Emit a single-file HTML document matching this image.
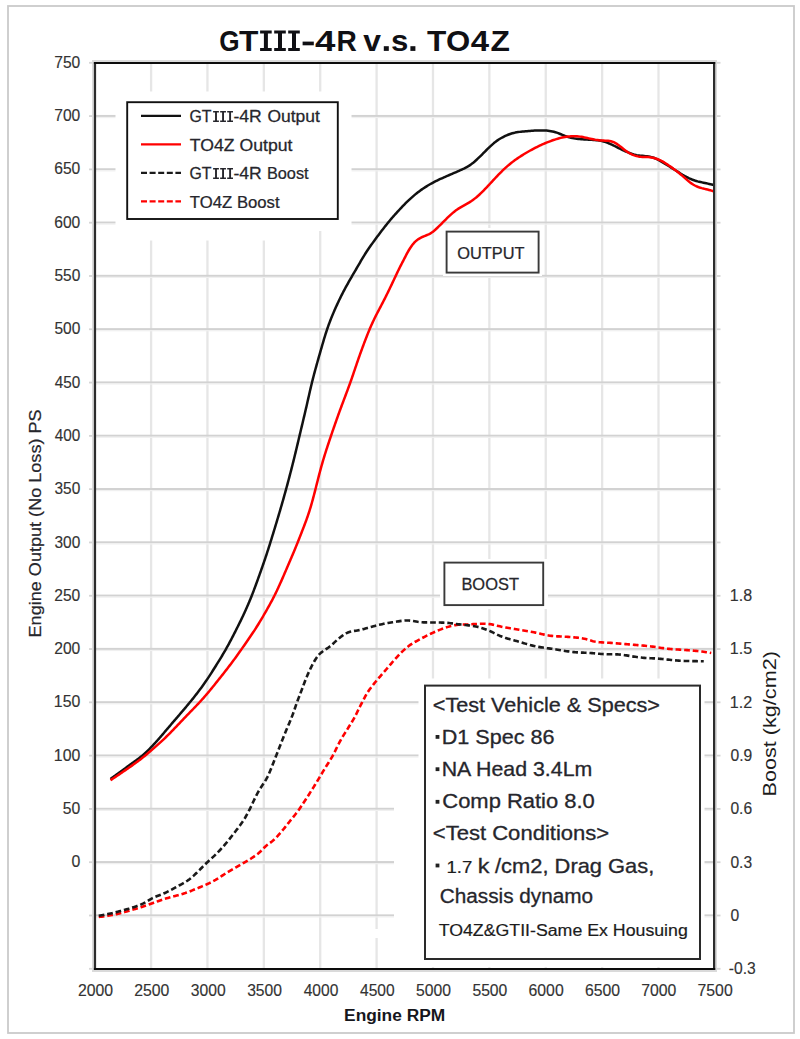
<!DOCTYPE html>
<html><head><meta charset="utf-8"><title>GTIII-4R v.s. TO4Z</title>
<style>html,body{margin:0;padding:0;background:#fff;}svg{display:block;}text{font-family:"Liberation Sans", sans-serif;}</style>
</head><body>
<svg width="800" height="1039" viewBox="0 0 800 1039">
<rect x="0" y="0" width="800" height="1039" fill="#fff"/>
<rect x="8" y="6" width="786" height="1027" fill="none" stroke="#cacaca" stroke-width="1.8"/>
<g id="grid">
<rect x="149.93" y="63.0" width="2.3" height="906.0" fill="#e6e6e6"/>
<rect x="206.31" y="63.0" width="2.3" height="906.0" fill="#e6e6e6"/>
<rect x="262.69" y="63.0" width="2.3" height="906.0" fill="#e6e6e6"/>
<rect x="319.07" y="63.0" width="2.3" height="906.0" fill="#e6e6e6"/>
<rect x="375.45" y="63.0" width="2.3" height="906.0" fill="#e6e6e6"/>
<rect x="431.83" y="63.0" width="2.3" height="906.0" fill="#e6e6e6"/>
<rect x="488.21" y="63.0" width="2.3" height="906.0" fill="#e6e6e6"/>
<rect x="544.59" y="63.0" width="2.3" height="906.0" fill="#e6e6e6"/>
<rect x="600.97" y="63.0" width="2.3" height="906.0" fill="#e6e6e6"/>
<rect x="657.35" y="63.0" width="2.3" height="906.0" fill="#e6e6e6"/>
<rect x="95.0" y="114.94" width="619.0" height="2" fill="#d2d2d2"/>
<rect x="95.0" y="116.94" width="619.0" height="1.2" fill="#f0f0f0"/>
<rect x="95.0" y="168.24" width="619.0" height="2" fill="#d2d2d2"/>
<rect x="95.0" y="170.24" width="619.0" height="1.2" fill="#f0f0f0"/>
<rect x="95.0" y="221.53" width="619.0" height="2" fill="#d2d2d2"/>
<rect x="95.0" y="223.53" width="619.0" height="1.2" fill="#f0f0f0"/>
<rect x="95.0" y="274.83" width="619.0" height="2" fill="#d2d2d2"/>
<rect x="95.0" y="276.83" width="619.0" height="1.2" fill="#f0f0f0"/>
<rect x="95.0" y="328.12" width="619.0" height="2" fill="#d2d2d2"/>
<rect x="95.0" y="330.12" width="619.0" height="1.2" fill="#f0f0f0"/>
<rect x="95.0" y="381.41" width="619.0" height="2" fill="#d2d2d2"/>
<rect x="95.0" y="383.41" width="619.0" height="1.2" fill="#f0f0f0"/>
<rect x="95.0" y="434.71" width="619.0" height="2" fill="#d2d2d2"/>
<rect x="95.0" y="436.71" width="619.0" height="1.2" fill="#f0f0f0"/>
<rect x="95.0" y="488.00" width="619.0" height="2" fill="#d2d2d2"/>
<rect x="95.0" y="490.00" width="619.0" height="1.2" fill="#f0f0f0"/>
<rect x="95.0" y="541.30" width="619.0" height="2" fill="#d2d2d2"/>
<rect x="95.0" y="543.30" width="619.0" height="1.2" fill="#f0f0f0"/>
<rect x="95.0" y="594.59" width="619.0" height="2" fill="#d2d2d2"/>
<rect x="95.0" y="596.59" width="619.0" height="1.2" fill="#f0f0f0"/>
<rect x="95.0" y="647.89" width="619.0" height="2" fill="#d2d2d2"/>
<rect x="95.0" y="649.89" width="619.0" height="1.2" fill="#f0f0f0"/>
<rect x="95.0" y="701.18" width="619.0" height="2" fill="#d2d2d2"/>
<rect x="95.0" y="703.18" width="619.0" height="1.2" fill="#f0f0f0"/>
<rect x="95.0" y="754.47" width="619.0" height="2" fill="#d2d2d2"/>
<rect x="95.0" y="756.47" width="619.0" height="1.2" fill="#f0f0f0"/>
<rect x="95.0" y="807.77" width="619.0" height="2" fill="#d2d2d2"/>
<rect x="95.0" y="809.77" width="619.0" height="1.2" fill="#f0f0f0"/>
<rect x="95.0" y="861.06" width="619.0" height="2" fill="#d2d2d2"/>
<rect x="95.0" y="863.06" width="619.0" height="1.2" fill="#f0f0f0"/>
<rect x="95.0" y="914.36" width="619.0" height="2" fill="#d2d2d2"/>
<rect x="95.0" y="916.36" width="619.0" height="1.2" fill="#f0f0f0"/>
</g>
<g id="ticks" fill="#d6d6d6">
<rect x="89" y="61.90" width="5" height="1.8"/>
<rect x="715" y="61.90" width="5.5" height="1.8"/>
<rect x="89" y="115.19" width="5" height="1.8"/>
<rect x="715" y="115.19" width="5.5" height="1.8"/>
<rect x="89" y="168.49" width="5" height="1.8"/>
<rect x="715" y="168.49" width="5.5" height="1.8"/>
<rect x="89" y="221.78" width="5" height="1.8"/>
<rect x="715" y="221.78" width="5.5" height="1.8"/>
<rect x="89" y="275.08" width="5" height="1.8"/>
<rect x="715" y="275.08" width="5.5" height="1.8"/>
<rect x="89" y="328.37" width="5" height="1.8"/>
<rect x="715" y="328.37" width="5.5" height="1.8"/>
<rect x="89" y="381.66" width="5" height="1.8"/>
<rect x="715" y="381.66" width="5.5" height="1.8"/>
<rect x="89" y="434.96" width="5" height="1.8"/>
<rect x="715" y="434.96" width="5.5" height="1.8"/>
<rect x="89" y="488.25" width="5" height="1.8"/>
<rect x="715" y="488.25" width="5.5" height="1.8"/>
<rect x="89" y="541.55" width="5" height="1.8"/>
<rect x="715" y="541.55" width="5.5" height="1.8"/>
<rect x="89" y="594.84" width="5" height="1.8"/>
<rect x="715" y="594.84" width="5.5" height="1.8"/>
<rect x="89" y="648.14" width="5" height="1.8"/>
<rect x="715" y="648.14" width="5.5" height="1.8"/>
<rect x="89" y="701.43" width="5" height="1.8"/>
<rect x="715" y="701.43" width="5.5" height="1.8"/>
<rect x="89" y="754.72" width="5" height="1.8"/>
<rect x="715" y="754.72" width="5.5" height="1.8"/>
<rect x="89" y="808.02" width="5" height="1.8"/>
<rect x="715" y="808.02" width="5.5" height="1.8"/>
<rect x="89" y="861.31" width="5" height="1.8"/>
<rect x="715" y="861.31" width="5.5" height="1.8"/>
<rect x="89" y="914.61" width="5" height="1.8"/>
<rect x="715" y="914.61" width="5.5" height="1.8"/>
<rect x="89" y="967.90" width="5" height="1.8"/>
<rect x="715" y="967.90" width="5.5" height="1.8"/>
</g>
<g id="masks" fill="#fff">
<rect x="115.5" y="91.5" width="236" height="139.5"/>
<rect x="115.5" y="231" width="185" height="9.5"/>
<rect x="443" y="228" width="99" height="48"/>
<rect x="440" y="559" width="108" height="50"/>
<rect x="418.5" y="678.5" width="286" height="112"/>
<rect x="394" y="790" width="310.5" height="177"/>
<rect x="374" y="929" width="6" height="9"/>
</g>
<g id="curves" fill="none" stroke-linejoin="round">
<path d="M98.75 917.00 L100.24 916.81 L101.73 916.63 L103.21 916.44 L104.70 916.24 L106.19 916.04 L107.67 915.82 L109.15 915.59 L110.63 915.34 L112.10 915.06 L113.57 914.77 L115.04 914.45 L116.50 914.11 L117.96 913.76 L119.42 913.40 L120.87 913.03 L122.32 912.65 L123.77 912.26 L125.21 911.86 L126.66 911.46 L128.10 911.05 L129.54 910.64 L130.99 910.22 L132.42 909.80 L133.86 909.37 L135.30 908.94 L136.73 908.50 L138.17 908.06 L139.60 907.61 L141.03 907.15 L142.45 906.68 L143.87 906.21 L145.29 905.72 L146.71 905.23 L148.12 904.73 L149.54 904.23 L150.95 903.72 L152.36 903.21 L153.77 902.70 L155.18 902.19 L156.59 901.68 L158.00 901.17 L159.42 900.67 L160.83 900.18 L162.25 899.69 L163.67 899.22 L165.10 898.76 L166.53 898.31 L167.97 897.89 L169.41 897.48 L170.86 897.09 L172.31 896.71 L173.77 896.34 L175.22 895.97 L176.67 895.60 L178.12 895.22 L179.57 894.82 L181.01 894.41 L182.45 893.97 L183.87 893.52 L185.30 893.05 L186.71 892.55 L188.12 892.04 L189.52 891.51 L190.92 890.96 L192.31 890.40 L193.70 889.82 L195.08 889.24 L196.46 888.66 L197.85 888.08 L199.23 887.51 L200.62 886.93 L202.00 886.36 L203.39 885.78 L204.77 885.20 L206.14 884.60 L207.51 883.98 L208.87 883.36 L210.23 882.71 L211.57 882.05 L212.91 881.37 L214.23 880.66 L215.53 879.93 L216.82 879.16 L218.09 878.37 L219.35 877.55 L220.60 876.72 L221.84 875.88 L223.09 875.05 L224.34 874.23 L225.61 873.43 L226.89 872.64 L228.18 871.87 L229.47 871.11 L230.77 870.36 L232.06 869.61 L233.36 868.86 L234.66 868.11 L235.96 867.35 L237.26 866.60 L238.55 865.85 L239.85 865.09 L241.14 864.34 L242.44 863.59 L243.74 862.84 L245.05 862.10 L246.35 861.35 L247.65 860.60 L248.94 859.84 L250.22 859.06 L251.49 858.26 L252.74 857.44 L253.98 856.59 L255.20 855.73 L256.41 854.84 L257.60 853.93 L258.77 852.99 L259.90 852.02 L260.99 851.00 L262.04 849.94 L263.06 848.86 L264.08 847.77 L265.13 846.72 L266.24 845.73 L267.40 844.80 L268.60 843.91 L269.81 843.04 L271.02 842.16 L272.19 841.23 L273.33 840.27 L274.43 839.25 L275.50 838.20 L276.54 837.12 L277.56 836.03 L278.57 834.92 L279.56 833.79 L280.55 832.66 L281.52 831.53 L282.49 830.38 L283.45 829.23 L284.40 828.07 L285.35 826.90 L286.28 825.73 L287.21 824.55 L288.14 823.38 L289.07 822.20 L290.01 821.03 L290.94 819.85 L291.89 818.69 L292.83 817.53 L293.78 816.36 L294.72 815.20 L295.66 814.02 L296.57 812.84 L297.48 811.64 L298.36 810.43 L299.23 809.20 L300.08 807.97 L300.93 806.73 L301.76 805.49 L302.60 804.24 L303.42 802.99 L304.24 801.73 L305.06 800.48 L305.88 799.22 L306.70 797.96 L307.51 796.70 L308.32 795.44 L309.13 794.18 L309.94 792.91 L310.75 791.65 L311.55 790.38 L312.35 789.11 L313.14 787.84 L313.94 786.57 L314.73 785.29 L315.52 784.02 L316.30 782.74 L317.08 781.46 L317.86 780.17 L318.63 778.89 L319.40 777.60 L320.17 776.31 L320.94 775.03 L321.71 773.74 L322.48 772.45 L323.25 771.16 L324.03 769.88 L324.81 768.60 L325.60 767.33 L326.40 766.06 L327.20 764.79 L328.01 763.53 L328.82 762.26 L329.62 761.00 L330.41 759.72 L331.18 758.44 L331.93 757.14 L332.67 755.83 L333.38 754.51 L334.07 753.18 L334.74 751.84 L335.41 750.50 L336.06 749.15 L336.72 747.80 L337.38 746.45 L338.04 745.11 L338.72 743.77 L339.42 742.44 L340.13 741.12 L340.86 739.81 L341.61 738.51 L342.37 737.22 L343.15 735.94 L343.94 734.67 L344.74 733.40 L345.53 732.13 L346.33 730.86 L347.13 729.59 L347.93 728.32 L348.73 727.05 L349.53 725.78 L350.33 724.51 L351.13 723.24 L351.92 721.96 L352.69 720.68 L353.44 719.38 L354.17 718.07 L354.88 716.75 L355.57 715.42 L356.25 714.08 L356.92 712.74 L357.58 711.39 L358.24 710.05 L358.91 708.70 L359.58 707.36 L360.25 706.02 L360.93 704.69 L361.62 703.35 L362.30 702.02 L362.99 700.69 L363.69 699.36 L364.39 698.03 L365.11 696.72 L365.84 695.41 L366.60 694.11 L367.38 692.83 L368.18 691.57 L369.01 690.32 L369.88 689.10 L370.76 687.89 L371.67 686.69 L372.59 685.51 L373.53 684.34 L374.47 683.17 L375.42 682.01 L376.38 680.86 L377.34 679.71 L378.31 678.57 L379.29 677.43 L380.27 676.30 L381.25 675.16 L382.24 674.03 L383.22 672.89 L384.20 671.76 L385.17 670.62 L386.15 669.48 L387.12 668.33 L388.09 667.19 L389.06 666.05 L390.04 664.91 L391.02 663.78 L392.01 662.65 L392.99 661.52 L393.99 660.39 L394.98 659.27 L395.98 658.15 L396.99 657.04 L398.00 655.93 L399.02 654.84 L400.06 653.76 L401.12 652.69 L402.19 651.64 L403.28 650.61 L404.39 649.61 L405.51 648.62 L406.66 647.65 L407.82 646.71 L409.01 645.79 L410.22 644.91 L411.46 644.06 L412.72 643.26 L414.00 642.48 L415.30 641.74 L416.62 641.03 L417.94 640.32 L419.27 639.62 L420.59 638.91 L421.91 638.20 L423.23 637.49 L424.56 636.79 L425.88 636.09 L427.22 635.41 L428.56 634.74 L429.91 634.08 L431.27 633.45 L432.63 632.82 L434.00 632.21 L435.38 631.62 L436.76 631.03 L438.15 630.46 L439.54 629.91 L440.94 629.36 L442.34 628.84 L443.75 628.32 L445.16 627.82 L446.58 627.34 L448.01 626.87 L449.44 626.43 L450.88 626.03 L452.33 625.66 L453.80 625.35 L455.27 625.09 L456.75 624.89 L458.24 624.75 L459.73 624.66 L461.23 624.60 L462.73 624.57 L464.23 624.54 L465.73 624.51 L467.23 624.47 L468.72 624.41 L470.22 624.33 L471.72 624.25 L473.22 624.16 L474.71 624.06 L476.21 623.97 L477.71 623.89 L479.21 623.82 L480.71 623.76 L482.20 623.72 L483.70 623.71 L485.20 623.74 L486.70 623.81 L488.19 623.93 L489.67 624.10 L491.15 624.33 L492.62 624.60 L494.09 624.92 L495.54 625.27 L497.00 625.64 L498.45 626.00 L499.91 626.36 L501.37 626.70 L502.83 627.01 L504.30 627.30 L505.78 627.57 L507.26 627.83 L508.74 628.08 L510.22 628.32 L511.70 628.56 L513.18 628.80 L514.66 629.04 L516.14 629.28 L517.62 629.52 L519.10 629.77 L520.58 630.01 L522.06 630.26 L523.54 630.50 L525.02 630.75 L526.50 631.00 L527.98 631.25 L529.45 631.51 L530.93 631.77 L532.41 632.04 L533.88 632.32 L535.35 632.61 L536.82 632.92 L538.28 633.25 L539.74 633.59 L541.20 633.94 L542.66 634.28 L544.12 634.62 L545.59 634.93 L547.06 635.21 L548.54 635.46 L550.02 635.68 L551.51 635.86 L553.00 636.01 L554.49 636.13 L555.99 636.24 L557.48 636.33 L558.98 636.41 L560.48 636.48 L561.98 636.56 L563.48 636.63 L564.97 636.70 L566.47 636.79 L567.97 636.88 L569.47 636.98 L570.96 637.10 L572.45 637.23 L573.95 637.36 L575.44 637.51 L576.93 637.66 L578.42 637.83 L579.91 638.02 L581.40 638.22 L582.87 638.46 L584.34 638.74 L585.80 639.08 L587.24 639.46 L588.68 639.89 L590.11 640.34 L591.54 640.77 L592.98 641.16 L594.43 641.49 L595.90 641.76 L597.39 641.96 L598.87 642.13 L600.37 642.26 L601.86 642.36 L603.36 642.46 L604.86 642.55 L606.35 642.63 L607.85 642.72 L609.35 642.81 L610.85 642.90 L612.34 643.01 L613.84 643.12 L615.33 643.24 L616.83 643.36 L618.32 643.48 L619.82 643.61 L621.31 643.74 L622.81 643.87 L624.30 644.00 L625.79 644.13 L627.29 644.26 L628.78 644.39 L630.28 644.52 L631.77 644.64 L633.27 644.77 L634.76 644.89 L636.26 645.01 L637.75 645.13 L639.25 645.26 L640.74 645.38 L642.24 645.51 L643.73 645.64 L645.22 645.78 L646.72 645.92 L648.21 646.08 L649.70 646.24 L651.19 646.42 L652.68 646.61 L654.16 646.82 L655.65 647.03 L657.13 647.26 L658.61 647.48 L660.09 647.71 L661.58 647.94 L663.06 648.15 L664.55 648.35 L666.04 648.54 L667.53 648.71 L669.02 648.87 L670.51 649.01 L672.01 649.13 L673.50 649.25 L675.00 649.35 L676.49 649.45 L677.99 649.55 L679.49 649.64 L680.98 649.74 L682.48 649.83 L683.98 649.94 L685.47 650.04 L686.97 650.15 L688.47 650.26 L689.96 650.37 L691.46 650.49 L692.95 650.61 L694.45 650.73 L695.94 650.87 L697.43 651.01 L698.93 651.17 L700.41 651.34 L701.90 651.53 L703.38 651.73 L704.86 651.95 L706.30 652.18 L707.69 652.40 L708.98 652.62 L710.15 652.82 L711.25 653.00" stroke="#ff0000" stroke-width="2.6" stroke-dasharray="5.7 2.9"/>
<path d="M98.75 915.75 L100.23 915.49 L101.70 915.23 L103.18 914.96 L104.66 914.69 L106.13 914.42 L107.60 914.13 L109.07 913.84 L110.54 913.52 L112.00 913.20 L113.46 912.85 L114.92 912.49 L116.37 912.12 L117.82 911.74 L119.27 911.35 L120.72 910.96 L122.16 910.56 L123.61 910.16 L125.05 909.75 L126.49 909.33 L127.93 908.91 L129.37 908.49 L130.81 908.05 L132.24 907.61 L133.67 907.16 L135.10 906.69 L136.52 906.21 L137.93 905.70 L139.33 905.17 L140.71 904.60 L142.08 903.99 L143.42 903.34 L144.74 902.63 L146.04 901.89 L147.32 901.11 L148.60 900.33 L149.89 899.57 L151.19 898.83 L152.52 898.14 L153.87 897.49 L155.24 896.89 L156.63 896.33 L158.02 895.78 L159.42 895.25 L160.82 894.70 L162.21 894.14 L163.59 893.56 L164.96 892.95 L166.32 892.31 L167.66 891.65 L169.00 890.97 L170.33 890.28 L171.65 889.57 L172.97 888.86 L174.29 888.15 L175.61 887.43 L176.92 886.70 L178.24 885.98 L179.55 885.26 L180.87 884.54 L182.18 883.82 L183.50 883.09 L184.80 882.35 L186.08 881.58 L187.34 880.77 L188.57 879.92 L189.76 879.02 L190.92 878.08 L192.06 877.10 L193.18 876.10 L194.27 875.08 L195.36 874.05 L196.44 873.00 L197.52 871.96 L198.59 870.91 L199.65 869.85 L200.72 868.79 L201.77 867.73 L202.83 866.67 L203.89 865.60 L204.95 864.55 L206.02 863.50 L207.10 862.46 L208.20 861.43 L209.30 860.41 L210.41 859.40 L211.52 858.39 L212.63 857.38 L213.73 856.37 L214.82 855.34 L215.89 854.29 L216.96 853.23 L218.01 852.16 L219.04 851.08 L220.07 849.99 L221.09 848.89 L222.09 847.77 L223.09 846.65 L224.08 845.53 L225.06 844.39 L226.03 843.25 L226.99 842.09 L227.94 840.93 L228.88 839.77 L229.82 838.59 L230.75 837.42 L231.67 836.24 L232.60 835.06 L233.52 833.87 L234.44 832.69 L235.36 831.51 L236.28 830.32 L237.20 829.14 L238.12 827.95 L239.02 826.75 L239.92 825.55 L240.80 824.34 L241.67 823.11 L242.51 821.88 L243.34 820.62 L244.14 819.36 L244.92 818.08 L245.68 816.78 L246.42 815.48 L247.14 814.17 L247.85 812.85 L248.55 811.52 L249.24 810.19 L249.92 808.85 L250.58 807.50 L251.23 806.15 L251.87 804.79 L252.50 803.43 L253.12 802.07 L253.75 800.71 L254.39 799.35 L255.04 798.00 L255.71 796.66 L256.39 795.32 L257.09 794.00 L257.81 792.68 L258.55 791.38 L259.31 790.09 L260.10 788.81 L260.90 787.54 L261.71 786.28 L262.53 785.02 L263.35 783.77 L264.17 782.52 L264.98 781.26 L265.77 779.98 L266.52 778.69 L267.23 777.37 L267.90 776.03 L268.53 774.67 L269.14 773.30 L269.72 771.92 L270.30 770.54 L270.86 769.15 L271.42 767.76 L271.98 766.36 L272.53 764.97 L273.08 763.57 L273.63 762.18 L274.17 760.78 L274.72 759.38 L275.27 757.99 L275.82 756.59 L276.37 755.20 L276.92 753.80 L277.47 752.40 L278.02 751.01 L278.56 749.61 L279.11 748.21 L279.65 746.82 L280.20 745.42 L280.74 744.02 L281.29 742.62 L281.84 741.23 L282.39 739.83 L282.94 738.44 L283.49 737.04 L284.05 735.65 L284.61 734.26 L285.18 732.87 L285.75 731.48 L286.33 730.10 L286.91 728.72 L287.50 727.34 L288.08 725.96 L288.67 724.58 L289.25 723.19 L289.83 721.81 L290.40 720.42 L290.97 719.03 L291.52 717.64 L292.07 716.24 L292.60 714.84 L293.12 713.43 L293.62 712.02 L294.12 710.61 L294.61 709.19 L295.10 707.77 L295.58 706.35 L296.07 704.93 L296.57 703.52 L297.07 702.10 L297.59 700.70 L298.12 699.29 L298.66 697.89 L299.20 696.50 L299.75 695.10 L300.29 693.70 L300.82 692.30 L301.35 690.90 L301.88 689.49 L302.40 688.09 L302.92 686.68 L303.45 685.28 L303.98 683.87 L304.52 682.47 L305.06 681.07 L305.60 679.68 L306.16 678.28 L306.73 676.90 L307.31 675.51 L307.91 674.14 L308.52 672.77 L309.14 671.40 L309.78 670.04 L310.42 668.69 L311.08 667.34 L311.76 666.00 L312.45 664.67 L313.15 663.35 L313.88 662.04 L314.63 660.74 L315.42 659.47 L316.24 658.22 L317.10 657.00 L318.02 655.82 L319.00 654.70 L320.04 653.63 L321.14 652.63 L322.29 651.69 L323.50 650.80 L324.73 649.96 L325.98 649.14 L327.23 648.31 L328.46 647.46 L329.67 646.58 L330.84 645.65 L331.98 644.68 L333.10 643.68 L334.20 642.66 L335.29 641.63 L336.39 640.62 L337.51 639.62 L338.64 638.63 L339.79 637.68 L340.96 636.75 L342.16 635.84 L343.38 634.99 L344.64 634.18 L345.94 633.45 L347.28 632.81 L348.66 632.27 L350.07 631.82 L351.52 631.45 L352.98 631.16 L354.46 630.90 L355.93 630.66 L357.41 630.41 L358.89 630.14 L360.35 629.83 L361.81 629.49 L363.27 629.13 L364.71 628.74 L366.16 628.34 L367.60 627.93 L369.05 627.53 L370.49 627.13 L371.94 626.73 L373.39 626.34 L374.84 625.95 L376.29 625.57 L377.74 625.20 L379.20 624.84 L380.65 624.49 L382.11 624.15 L383.58 623.83 L385.05 623.53 L386.52 623.25 L388.00 622.99 L389.48 622.74 L390.96 622.50 L392.44 622.27 L393.92 622.05 L395.41 621.82 L396.89 621.59 L398.37 621.36 L399.85 621.13 L401.33 620.91 L402.82 620.71 L404.31 620.56 L405.80 620.46 L407.29 620.43 L408.78 620.47 L410.27 620.60 L411.75 620.79 L413.22 621.03 L414.70 621.30 L416.17 621.56 L417.65 621.80 L419.14 622.00 L420.62 622.15 L422.12 622.26 L423.61 622.34 L425.11 622.39 L426.61 622.42 L428.11 622.44 L429.61 622.46 L431.11 622.47 L432.61 622.48 L434.11 622.49 L435.61 622.51 L437.11 622.53 L438.61 622.55 L440.11 622.57 L441.61 622.60 L443.11 622.64 L444.61 622.71 L446.10 622.80 L447.60 622.91 L449.09 623.06 L450.58 623.22 L452.07 623.41 L453.55 623.61 L455.04 623.81 L456.53 624.02 L458.01 624.22 L459.50 624.41 L460.99 624.58 L462.48 624.75 L463.97 624.90 L465.46 625.05 L466.96 625.21 L468.45 625.37 L469.94 625.54 L471.42 625.73 L472.90 625.96 L474.38 626.21 L475.85 626.50 L477.31 626.82 L478.77 627.18 L480.22 627.57 L481.65 627.99 L483.08 628.45 L484.50 628.93 L485.91 629.45 L487.30 630.00 L488.69 630.57 L490.06 631.17 L491.42 631.80 L492.77 632.45 L494.12 633.11 L495.46 633.77 L496.81 634.42 L498.17 635.06 L499.53 635.68 L500.91 636.27 L502.30 636.83 L503.71 637.35 L505.12 637.83 L506.55 638.28 L507.99 638.71 L509.44 639.11 L510.88 639.50 L512.33 639.89 L513.78 640.27 L515.23 640.65 L516.68 641.05 L518.12 641.46 L519.56 641.88 L521.00 642.31 L522.43 642.75 L523.87 643.18 L525.30 643.62 L526.74 644.05 L528.18 644.47 L529.63 644.87 L531.07 645.26 L532.53 645.63 L533.99 645.97 L535.45 646.29 L536.92 646.59 L538.40 646.86 L539.87 647.11 L541.35 647.35 L542.84 647.57 L544.32 647.78 L545.81 647.99 L547.29 648.19 L548.78 648.39 L550.27 648.59 L551.75 648.80 L553.24 649.01 L554.72 649.23 L556.20 649.46 L557.68 649.70 L559.16 649.94 L560.64 650.19 L562.12 650.44 L563.60 650.69 L565.08 650.93 L566.56 651.17 L568.05 651.39 L569.53 651.60 L571.02 651.79 L572.51 651.95 L574.00 652.10 L575.50 652.23 L576.99 652.34 L578.49 652.43 L579.99 652.51 L581.48 652.59 L582.98 652.66 L584.48 652.72 L585.98 652.80 L587.48 652.87 L588.97 652.96 L590.47 653.06 L591.97 653.17 L593.46 653.29 L594.95 653.42 L596.45 653.56 L597.94 653.69 L599.44 653.82 L600.93 653.94 L602.43 654.05 L603.92 654.14 L605.42 654.21 L606.92 654.26 L608.42 654.28 L609.92 654.29 L611.42 654.28 L612.92 654.28 L614.42 654.30 L615.92 654.33 L617.41 654.39 L618.91 654.48 L620.40 654.61 L621.89 654.77 L623.38 654.96 L624.86 655.17 L626.35 655.39 L627.83 655.63 L629.31 655.88 L630.79 656.12 L632.27 656.37 L633.75 656.61 L635.23 656.83 L636.71 657.05 L638.20 657.24 L639.69 657.42 L641.18 657.58 L642.67 657.71 L644.17 657.83 L645.66 657.94 L647.16 658.03 L648.66 658.11 L650.16 658.19 L651.66 658.27 L653.15 658.34 L654.65 658.42 L656.15 658.51 L657.65 658.60 L659.14 658.71 L660.64 658.83 L662.13 658.97 L663.62 659.11 L665.11 659.27 L666.61 659.43 L668.10 659.60 L669.59 659.77 L671.08 659.94 L672.57 660.10 L674.06 660.25 L675.55 660.39 L677.05 660.51 L678.54 660.62 L680.04 660.72 L681.54 660.80 L683.04 660.87 L684.53 660.93 L686.03 660.97 L687.53 661.01 L689.03 661.05 L690.53 661.08 L692.03 661.10 L693.53 661.13 L695.03 661.15 L696.53 661.16 L698.02 661.18 L699.49 661.20 L700.94 661.21 L702.36 661.23 L703.75 661.25" stroke="#1a1a1a" stroke-width="2.6" stroke-dasharray="5.7 2.9"/>
<path d="M110.50 779.00 L111.71 778.12 L112.92 777.23 L114.14 776.35 L115.35 775.47 L116.56 774.58 L117.77 773.70 L118.99 772.82 L120.20 771.93 L121.41 771.05 L122.62 770.16 L123.83 769.28 L125.04 768.39 L126.25 767.50 L127.46 766.62 L128.67 765.73 L129.88 764.85 L131.10 763.97 L132.31 763.09 L133.53 762.21 L134.75 761.33 L135.96 760.46 L137.18 759.58 L138.38 758.68 L139.58 757.78 L140.76 756.86 L141.93 755.92 L143.08 754.96 L144.21 753.99 L145.33 752.99 L146.43 751.97 L147.51 750.93 L148.58 749.88 L149.63 748.82 L150.68 747.74 L151.71 746.65 L152.73 745.56 L153.75 744.46 L154.76 743.35 L155.77 742.24 L156.77 741.13 L157.77 740.01 L158.76 738.88 L159.74 737.75 L160.72 736.62 L161.70 735.48 L162.67 734.34 L163.65 733.20 L164.62 732.05 L165.59 730.91 L166.56 729.77 L167.54 728.63 L168.51 727.49 L169.48 726.34 L170.45 725.20 L171.43 724.06 L172.40 722.92 L173.38 721.78 L174.35 720.64 L175.33 719.50 L176.31 718.37 L177.28 717.23 L178.26 716.09 L179.23 714.95 L180.21 713.81 L181.18 712.67 L182.16 711.53 L183.13 710.38 L184.10 709.24 L185.06 708.09 L186.03 706.94 L186.99 705.79 L187.95 704.64 L188.91 703.49 L189.86 702.33 L190.81 701.17 L191.76 700.00 L192.70 698.84 L193.63 697.67 L194.57 696.49 L195.49 695.31 L196.42 694.13 L197.33 692.95 L198.24 691.75 L199.15 690.56 L200.05 689.36 L200.94 688.15 L201.83 686.94 L202.70 685.73 L203.58 684.51 L204.44 683.28 L205.30 682.05 L206.15 680.82 L206.99 679.58 L207.82 678.33 L208.65 677.09 L209.48 675.83 L210.30 674.58 L211.11 673.32 L211.92 672.06 L212.73 670.79 L213.53 669.52 L214.33 668.26 L215.13 666.99 L215.93 665.72 L216.72 664.45 L217.52 663.17 L218.31 661.90 L219.10 660.63 L219.89 659.35 L220.67 658.07 L221.45 656.79 L222.22 655.51 L222.99 654.22 L223.75 652.93 L224.51 651.63 L225.26 650.33 L226.00 649.03 L226.73 647.72 L227.46 646.41 L228.18 645.10 L228.90 643.78 L229.61 642.46 L230.31 641.14 L231.01 639.81 L231.71 638.48 L232.40 637.15 L233.09 635.82 L233.77 634.49 L234.46 633.15 L235.14 631.81 L235.82 630.48 L236.49 629.14 L237.17 627.80 L237.84 626.46 L238.51 625.12 L239.17 623.77 L239.84 622.43 L240.50 621.08 L241.15 619.73 L241.80 618.38 L242.45 617.02 L243.09 615.67 L243.73 614.31 L244.36 612.95 L244.99 611.59 L245.61 610.22 L246.22 608.86 L246.83 607.49 L247.43 606.11 L248.03 604.74 L248.62 603.36 L249.20 601.98 L249.78 600.60 L250.35 599.21 L250.91 597.82 L251.47 596.43 L252.02 595.03 L252.56 593.63 L253.10 592.23 L253.64 590.83 L254.16 589.43 L254.69 588.03 L255.21 586.62 L255.73 585.21 L256.25 583.80 L256.76 582.39 L257.27 580.98 L257.78 579.57 L258.29 578.16 L258.80 576.75 L259.31 575.34 L259.81 573.93 L260.32 572.52 L260.82 571.10 L261.32 569.69 L261.82 568.27 L262.32 566.86 L262.81 565.44 L263.30 564.02 L263.79 562.61 L264.28 561.19 L264.76 559.77 L265.24 558.35 L265.71 556.92 L266.19 555.50 L266.66 554.08 L267.12 552.65 L267.59 551.23 L268.05 549.80 L268.51 548.37 L268.96 546.94 L269.41 545.51 L269.87 544.08 L270.31 542.65 L270.76 541.22 L271.21 539.78 L271.65 538.35 L272.09 536.92 L272.54 535.49 L272.98 534.05 L273.42 532.62 L273.86 531.18 L274.29 529.75 L274.73 528.31 L275.17 526.88 L275.60 525.44 L276.03 524.01 L276.47 522.57 L276.90 521.13 L277.33 519.70 L277.76 518.26 L278.18 516.82 L278.61 515.38 L279.04 513.95 L279.46 512.51 L279.88 511.07 L280.30 509.63 L280.72 508.19 L281.14 506.75 L281.56 505.31 L281.97 503.86 L282.39 502.42 L282.80 500.98 L283.21 499.54 L283.62 498.09 L284.02 496.65 L284.43 495.21 L284.83 493.76 L285.23 492.32 L285.63 490.87 L286.03 489.42 L286.42 487.98 L286.82 486.53 L287.21 485.08 L287.60 483.63 L287.99 482.18 L288.37 480.74 L288.76 479.29 L289.14 477.84 L289.52 476.38 L289.90 474.93 L290.28 473.48 L290.66 472.03 L291.03 470.58 L291.41 469.13 L291.78 467.67 L292.15 466.22 L292.52 464.76 L292.88 463.31 L293.25 461.85 L293.61 460.40 L293.97 458.94 L294.33 457.49 L294.69 456.03 L295.05 454.57 L295.40 453.12 L295.75 451.66 L296.10 450.20 L296.45 448.74 L296.80 447.28 L297.15 445.82 L297.50 444.36 L297.84 442.90 L298.19 441.44 L298.53 439.99 L298.88 438.53 L299.23 437.07 L299.57 435.61 L299.92 434.15 L300.26 432.69 L300.61 431.23 L300.96 429.77 L301.31 428.31 L301.65 426.85 L302.00 425.39 L302.35 423.93 L302.70 422.47 L303.04 421.01 L303.39 419.55 L303.73 418.09 L304.08 416.63 L304.42 415.17 L304.77 413.71 L305.11 412.25 L305.45 410.79 L305.79 409.33 L306.12 407.87 L306.46 406.41 L306.80 404.95 L307.13 403.48 L307.46 402.02 L307.79 400.56 L308.12 399.10 L308.45 397.63 L308.79 396.17 L309.12 394.71 L309.45 393.24 L309.79 391.78 L310.12 390.32 L310.46 388.86 L310.80 387.40 L311.15 385.94 L311.50 384.48 L311.85 383.02 L312.21 381.57 L312.58 380.11 L312.94 378.66 L313.31 377.21 L313.69 375.75 L314.07 374.30 L314.45 372.85 L314.84 371.41 L315.23 369.96 L315.63 368.51 L316.03 367.06 L316.43 365.62 L316.83 364.17 L317.24 362.73 L317.64 361.29 L318.05 359.84 L318.46 358.40 L318.87 356.96 L319.28 355.51 L319.69 354.07 L320.10 352.63 L320.52 351.19 L320.93 349.74 L321.34 348.30 L321.76 346.86 L322.17 345.42 L322.59 343.98 L323.01 342.54 L323.44 341.10 L323.86 339.66 L324.29 338.23 L324.73 336.79 L325.17 335.36 L325.62 333.93 L326.07 332.50 L326.54 331.08 L327.01 329.65 L327.49 328.23 L327.98 326.82 L328.48 325.41 L328.99 324.00 L329.52 322.59 L330.05 321.19 L330.59 319.80 L331.14 318.40 L331.70 317.01 L332.27 315.63 L332.85 314.24 L333.43 312.86 L334.02 311.48 L334.62 310.11 L335.22 308.73 L335.83 307.36 L336.45 306.00 L337.07 304.63 L337.70 303.27 L338.33 301.91 L338.97 300.56 L339.62 299.21 L340.28 297.86 L340.94 296.52 L341.62 295.18 L342.29 293.84 L342.98 292.51 L343.67 291.18 L344.38 289.85 L345.08 288.53 L345.80 287.21 L346.52 285.90 L347.24 284.58 L347.97 283.27 L348.71 281.97 L349.45 280.66 L350.19 279.36 L350.93 278.06 L351.68 276.76 L352.44 275.46 L353.19 274.17 L353.95 272.87 L354.71 271.58 L355.47 270.29 L356.23 269.00 L356.99 267.70 L357.74 266.40 L358.50 265.11 L359.25 263.81 L360.00 262.51 L360.75 261.21 L361.50 259.92 L362.26 258.62 L363.03 257.33 L363.81 256.05 L364.59 254.78 L365.39 253.51 L366.20 252.25 L367.03 250.99 L367.86 249.74 L368.71 248.51 L369.56 247.28 L370.43 246.05 L371.29 244.83 L372.17 243.61 L373.05 242.39 L373.93 241.18 L374.81 239.97 L375.70 238.76 L376.59 237.55 L377.49 236.35 L378.38 235.15 L379.28 233.95 L380.19 232.75 L381.10 231.55 L382.01 230.36 L382.92 229.17 L383.84 227.99 L384.76 226.81 L385.69 225.63 L386.63 224.46 L387.57 223.29 L388.52 222.13 L389.48 220.97 L390.44 219.82 L391.41 218.68 L392.39 217.54 L393.37 216.41 L394.37 215.29 L395.36 214.17 L396.37 213.05 L397.38 211.94 L398.39 210.84 L399.41 209.73 L400.43 208.64 L401.45 207.54 L402.48 206.45 L403.52 205.37 L404.57 204.30 L405.63 203.23 L406.69 202.18 L407.77 201.14 L408.86 200.10 L409.96 199.08 L411.07 198.07 L412.19 197.08 L413.31 196.09 L414.45 195.11 L415.60 194.15 L416.77 193.21 L417.95 192.28 L419.14 191.38 L420.35 190.49 L421.58 189.63 L422.81 188.78 L424.06 187.95 L425.32 187.14 L426.59 186.35 L427.87 185.56 L429.16 184.79 L430.46 184.04 L431.76 183.30 L433.07 182.57 L434.39 181.87 L435.73 181.18 L437.07 180.52 L438.42 179.87 L439.78 179.24 L441.15 178.63 L442.52 178.02 L443.90 177.42 L445.27 176.81 L446.65 176.21 L448.02 175.61 L449.40 175.02 L450.77 174.42 L452.15 173.82 L453.52 173.22 L454.90 172.62 L456.27 172.02 L457.64 171.41 L459.02 170.81 L460.39 170.20 L461.75 169.58 L463.12 168.96 L464.47 168.31 L465.80 167.63 L467.12 166.92 L468.40 166.16 L469.66 165.36 L470.89 164.50 L472.08 163.60 L473.25 162.67 L474.40 161.71 L475.52 160.72 L476.63 159.71 L477.73 158.69 L478.82 157.66 L479.90 156.62 L480.97 155.57 L482.03 154.51 L483.09 153.44 L484.14 152.38 L485.20 151.31 L486.26 150.26 L487.33 149.20 L488.40 148.16 L489.48 147.11 L490.57 146.08 L491.67 145.06 L492.79 144.06 L493.92 143.09 L495.08 142.14 L496.27 141.23 L497.49 140.36 L498.73 139.54 L500.00 138.75 L501.30 138.00 L502.61 137.28 L503.95 136.60 L505.30 135.95 L506.66 135.34 L508.04 134.76 L509.44 134.23 L510.85 133.74 L512.28 133.31 L513.73 132.93 L515.19 132.60 L516.66 132.32 L518.13 132.08 L519.62 131.88 L521.11 131.70 L522.60 131.54 L524.09 131.39 L525.58 131.26 L527.08 131.13 L528.57 131.01 L530.07 130.90 L531.56 130.80 L533.06 130.71 L534.56 130.62 L536.06 130.55 L537.56 130.49 L539.05 130.44 L540.55 130.40 L542.05 130.39 L543.55 130.40 L545.04 130.46 L546.54 130.56 L548.02 130.71 L549.51 130.90 L550.98 131.16 L552.44 131.46 L553.90 131.81 L555.33 132.22 L556.76 132.67 L558.17 133.18 L559.56 133.72 L560.95 134.28 L562.34 134.85 L563.73 135.41 L565.12 135.95 L566.53 136.46 L567.95 136.93 L569.38 137.36 L570.83 137.73 L572.29 138.05 L573.76 138.32 L575.24 138.55 L576.72 138.74 L578.21 138.90 L579.71 139.05 L581.20 139.18 L582.69 139.30 L584.19 139.41 L585.69 139.51 L587.18 139.61 L588.68 139.69 L590.18 139.77 L591.68 139.85 L593.17 139.93 L594.67 140.04 L596.16 140.16 L597.65 140.32 L599.13 140.53 L600.60 140.78 L602.06 141.09 L603.51 141.47 L604.94 141.90 L606.35 142.38 L607.75 142.90 L609.14 143.47 L610.51 144.07 L611.87 144.69 L613.23 145.34 L614.57 146.00 L615.91 146.68 L617.25 147.36 L618.58 148.04 L619.92 148.71 L621.27 149.37 L622.62 150.01 L623.98 150.65 L625.35 151.27 L626.72 151.87 L628.10 152.46 L629.49 153.02 L630.89 153.55 L632.30 154.03 L633.73 154.46 L635.18 154.83 L636.64 155.14 L638.11 155.38 L639.59 155.58 L641.08 155.74 L642.57 155.87 L644.07 156.00 L645.56 156.14 L647.05 156.31 L648.53 156.52 L649.99 156.78 L651.45 157.10 L652.88 157.50 L654.29 157.98 L655.67 158.54 L657.02 159.17 L658.35 159.85 L659.66 160.57 L660.96 161.32 L662.25 162.08 L663.53 162.86 L664.81 163.64 L666.09 164.42 L667.36 165.21 L668.64 166.00 L669.91 166.80 L671.18 167.60 L672.45 168.40 L673.72 169.20 L674.98 170.00 L676.25 170.81 L677.51 171.62 L678.78 172.42 L680.04 173.22 L681.32 174.01 L682.60 174.79 L683.90 175.54 L685.21 176.27 L686.53 176.97 L687.87 177.64 L689.22 178.29 L690.59 178.90 L691.97 179.48 L693.36 180.02 L694.77 180.52 L696.20 180.96 L697.64 181.37 L699.09 181.74 L700.55 182.08 L702.02 182.40 L703.48 182.71 L704.94 183.02 L706.40 183.34 L707.83 183.65 L709.21 183.96 L710.51 184.26 L711.69 184.53 L712.76 184.77 L713.75 185.00" stroke="#111" stroke-width="2.5"/>
<path d="M110.50 780.20 L111.75 779.37 L112.99 778.53 L114.24 777.70 L115.49 776.86 L116.73 776.03 L117.98 775.19 L119.22 774.36 L120.47 773.52 L121.71 772.68 L122.95 771.84 L124.20 771.00 L125.43 770.15 L126.67 769.30 L127.90 768.45 L129.13 767.59 L130.36 766.73 L131.58 765.86 L132.81 764.99 L134.02 764.11 L135.24 763.23 L136.45 762.35 L137.65 761.45 L138.85 760.55 L140.04 759.64 L141.23 758.72 L142.40 757.79 L143.57 756.85 L144.74 755.91 L145.90 754.96 L147.05 754.00 L148.20 753.04 L149.35 752.07 L150.49 751.10 L151.63 750.12 L152.76 749.14 L153.90 748.16 L155.02 747.17 L156.15 746.17 L157.27 745.18 L158.39 744.18 L159.50 743.17 L160.61 742.16 L161.71 741.14 L162.80 740.12 L163.89 739.09 L164.98 738.06 L166.06 737.01 L167.13 735.96 L168.19 734.91 L169.25 733.85 L170.31 732.78 L171.36 731.71 L172.40 730.64 L173.44 729.56 L174.48 728.48 L175.52 727.40 L176.56 726.31 L177.59 725.22 L178.62 724.14 L179.65 723.05 L180.68 721.96 L181.72 720.87 L182.75 719.78 L183.79 718.70 L184.82 717.62 L185.86 716.54 L186.90 715.46 L187.95 714.38 L188.99 713.30 L190.04 712.23 L191.09 711.16 L192.13 710.08 L193.18 709.00 L194.22 707.93 L195.26 706.85 L196.30 705.76 L197.33 704.68 L198.36 703.59 L199.38 702.49 L200.40 701.39 L201.41 700.28 L202.41 699.17 L203.41 698.05 L204.40 696.93 L205.39 695.80 L206.37 694.66 L207.34 693.52 L208.30 692.37 L209.26 691.22 L210.22 690.06 L211.17 688.90 L212.11 687.74 L213.06 686.58 L214.00 685.41 L214.94 684.24 L215.87 683.07 L216.81 681.89 L217.74 680.72 L218.68 679.55 L219.61 678.37 L220.54 677.20 L221.48 676.02 L222.41 674.85 L223.33 673.67 L224.26 672.49 L225.19 671.31 L226.11 670.13 L227.03 668.94 L227.95 667.76 L228.86 666.57 L229.77 665.37 L230.68 664.18 L231.58 662.98 L232.48 661.78 L233.37 660.58 L234.26 659.37 L235.15 658.16 L236.03 656.95 L236.91 655.73 L237.78 654.51 L238.65 653.29 L239.52 652.07 L240.39 650.84 L241.25 649.62 L242.11 648.39 L242.96 647.16 L243.82 645.92 L244.67 644.69 L245.53 643.46 L246.38 642.23 L247.23 640.99 L248.08 639.76 L248.93 638.52 L249.78 637.29 L250.63 636.05 L251.47 634.81 L252.31 633.56 L253.15 632.32 L253.97 631.07 L254.80 629.82 L255.61 628.56 L256.42 627.30 L257.22 626.03 L258.01 624.76 L258.80 623.48 L259.58 622.20 L260.35 620.92 L261.12 619.63 L261.89 618.34 L262.65 617.05 L263.40 615.75 L264.15 614.45 L264.90 613.16 L265.65 611.85 L266.39 610.55 L267.13 609.25 L267.87 607.94 L268.60 606.63 L269.33 605.32 L270.05 604.01 L270.77 602.69 L271.48 601.37 L272.18 600.05 L272.88 598.72 L273.57 597.39 L274.25 596.05 L274.92 594.71 L275.58 593.37 L276.23 592.02 L276.88 590.67 L277.52 589.31 L278.16 587.95 L278.78 586.59 L279.41 585.23 L280.02 583.86 L280.64 582.49 L281.25 581.12 L281.85 579.75 L282.46 578.38 L283.06 577.00 L283.65 575.63 L284.25 574.25 L284.85 572.87 L285.44 571.50 L286.03 570.12 L286.63 568.74 L287.22 567.36 L287.81 565.98 L288.40 564.61 L288.99 563.23 L289.58 561.85 L290.17 560.47 L290.76 559.09 L291.35 557.71 L291.94 556.33 L292.52 554.95 L293.11 553.57 L293.69 552.18 L294.27 550.80 L294.84 549.42 L295.41 548.03 L295.98 546.64 L296.54 545.25 L297.10 543.86 L297.66 542.47 L298.22 541.07 L298.77 539.68 L299.32 538.28 L299.87 536.89 L300.42 535.49 L300.96 534.10 L301.51 532.70 L302.05 531.30 L302.60 529.91 L303.14 528.51 L303.68 527.11 L304.22 525.71 L304.75 524.31 L305.28 522.91 L305.81 521.50 L306.32 520.09 L306.83 518.68 L307.33 517.27 L307.82 515.86 L308.30 514.44 L308.77 513.01 L309.24 511.59 L309.69 510.16 L310.13 508.73 L310.57 507.29 L310.99 505.86 L311.41 504.42 L311.82 502.97 L312.22 501.53 L312.62 500.08 L313.02 498.64 L313.40 497.19 L313.79 495.74 L314.17 494.29 L314.54 492.84 L314.92 491.38 L315.29 489.93 L315.66 488.48 L316.03 487.02 L316.39 485.57 L316.76 484.11 L317.13 482.66 L317.50 481.21 L317.86 479.75 L318.23 478.30 L318.61 476.85 L318.98 475.39 L319.36 473.94 L319.74 472.49 L320.13 471.04 L320.51 469.59 L320.91 468.15 L321.31 466.70 L321.71 465.26 L322.12 463.81 L322.53 462.37 L322.95 460.93 L323.37 459.49 L323.80 458.06 L324.24 456.62 L324.68 455.19 L325.12 453.75 L325.57 452.32 L326.03 450.89 L326.48 449.47 L326.95 448.04 L327.41 446.61 L327.88 445.19 L328.35 443.76 L328.82 442.34 L329.30 440.92 L329.77 439.50 L330.25 438.07 L330.73 436.65 L331.21 435.23 L331.69 433.81 L332.18 432.39 L332.66 430.97 L333.15 429.55 L333.64 428.14 L334.13 426.72 L334.62 425.30 L335.11 423.88 L335.61 422.47 L336.11 421.05 L336.61 419.64 L337.11 418.23 L337.61 416.81 L338.12 415.40 L338.63 413.99 L339.14 412.58 L339.66 411.17 L340.17 409.76 L340.69 408.36 L341.21 406.95 L341.73 405.54 L342.26 404.14 L342.79 402.73 L343.31 401.33 L343.84 399.93 L344.37 398.52 L344.90 397.12 L345.43 395.72 L345.96 394.31 L346.49 392.91 L347.01 391.50 L347.54 390.10 L348.06 388.69 L348.58 387.29 L349.09 385.88 L349.60 384.47 L350.11 383.05 L350.61 381.64 L351.11 380.23 L351.61 378.81 L352.10 377.40 L352.59 375.98 L353.08 374.56 L353.56 373.14 L354.04 371.72 L354.53 370.30 L355.01 368.88 L355.49 367.46 L355.97 366.04 L356.46 364.62 L356.94 363.20 L357.43 361.78 L357.92 360.36 L358.41 358.95 L358.90 357.53 L359.40 356.12 L359.90 354.70 L360.41 353.29 L360.91 351.88 L361.42 350.47 L361.94 349.06 L362.46 347.65 L362.98 346.24 L363.50 344.84 L364.03 343.43 L364.56 342.03 L365.09 340.63 L365.63 339.23 L366.17 337.83 L366.71 336.43 L367.27 335.04 L367.82 333.65 L368.39 332.26 L368.96 330.87 L369.53 329.49 L370.12 328.11 L370.71 326.73 L371.32 325.36 L371.93 323.99 L372.55 322.63 L373.18 321.27 L373.82 319.92 L374.47 318.57 L375.13 317.22 L375.80 315.88 L376.48 314.54 L377.16 313.21 L377.85 311.88 L378.54 310.55 L379.24 309.22 L379.94 307.89 L380.64 306.57 L381.34 305.24 L382.03 303.91 L382.73 302.58 L383.42 301.25 L384.11 299.92 L384.79 298.58 L385.47 297.25 L386.14 295.91 L386.81 294.56 L387.47 293.22 L388.13 291.87 L388.78 290.52 L389.43 289.17 L390.08 287.82 L390.73 286.47 L391.37 285.11 L392.02 283.76 L392.66 282.40 L393.30 281.04 L393.94 279.69 L394.58 278.33 L395.22 276.97 L395.86 275.62 L396.50 274.26 L397.14 272.91 L397.79 271.55 L398.44 270.20 L399.10 268.85 L399.76 267.51 L400.44 266.17 L401.12 264.83 L401.81 263.50 L402.50 262.17 L403.20 260.84 L403.89 259.51 L404.58 258.18 L405.26 256.85 L405.94 255.51 L406.62 254.18 L407.31 252.85 L408.04 251.54 L408.79 250.25 L409.58 248.97 L410.39 247.72 L411.24 246.49 L412.12 245.27 L413.03 244.10 L414.00 242.96 L415.01 241.88 L416.10 240.87 L417.24 239.94 L418.46 239.09 L419.72 238.32 L421.04 237.62 L422.38 236.98 L423.75 236.38 L425.13 235.81 L426.51 235.26 L427.88 234.68 L429.22 234.05 L430.52 233.35 L431.76 232.56 L432.96 231.69 L434.11 230.75 L435.24 229.77 L436.34 228.75 L437.43 227.72 L438.51 226.68 L439.58 225.63 L440.65 224.58 L441.71 223.52 L442.77 222.46 L443.83 221.39 L444.88 220.33 L445.95 219.27 L447.01 218.22 L448.09 217.18 L449.18 216.15 L450.28 215.13 L451.40 214.13 L452.53 213.14 L453.67 212.17 L454.84 211.23 L456.03 210.33 L457.24 209.45 L458.48 208.62 L459.75 207.83 L461.04 207.07 L462.35 206.34 L463.67 205.63 L464.99 204.92 L466.30 204.19 L467.60 203.45 L468.89 202.68 L470.15 201.88 L471.40 201.05 L472.62 200.19 L473.83 199.30 L475.01 198.38 L476.18 197.44 L477.32 196.48 L478.45 195.49 L479.56 194.48 L480.65 193.45 L481.72 192.40 L482.78 191.34 L483.83 190.28 L484.88 189.20 L485.92 188.12 L486.95 187.03 L487.98 185.94 L489.00 184.84 L490.02 183.74 L491.03 182.63 L492.05 181.53 L493.06 180.43 L494.08 179.33 L495.11 178.23 L496.14 177.14 L497.17 176.05 L498.22 174.98 L499.26 173.90 L500.32 172.84 L501.38 171.78 L502.45 170.73 L503.53 169.69 L504.63 168.66 L505.73 167.65 L506.85 166.65 L507.98 165.67 L509.12 164.70 L510.28 163.74 L511.44 162.80 L512.63 161.87 L513.82 160.97 L515.03 160.08 L516.25 159.21 L517.48 158.36 L518.72 157.52 L519.98 156.70 L521.24 155.89 L522.51 155.09 L523.78 154.30 L525.06 153.52 L526.35 152.75 L527.65 151.99 L528.94 151.24 L530.25 150.50 L531.56 149.78 L532.88 149.07 L534.21 148.37 L535.54 147.68 L536.88 147.01 L538.23 146.35 L539.58 145.70 L540.94 145.07 L542.31 144.45 L543.68 143.85 L545.06 143.26 L546.45 142.69 L547.84 142.13 L549.24 141.58 L550.64 141.05 L552.05 140.54 L553.46 140.04 L554.88 139.57 L556.31 139.11 L557.75 138.68 L559.19 138.27 L560.64 137.89 L562.10 137.55 L563.56 137.24 L565.03 136.97 L566.51 136.75 L568.00 136.58 L569.49 136.45 L570.98 136.35 L572.48 136.30 L573.98 136.28 L575.47 136.30 L576.97 136.36 L578.46 136.46 L579.95 136.62 L581.43 136.83 L582.90 137.08 L584.37 137.38 L585.83 137.71 L587.29 138.06 L588.74 138.40 L590.21 138.73 L591.67 139.05 L593.14 139.34 L594.61 139.62 L596.09 139.86 L597.57 140.08 L599.06 140.27 L600.55 140.41 L602.04 140.52 L603.54 140.60 L605.03 140.67 L606.53 140.75 L608.01 140.86 L609.49 141.04 L610.93 141.30 L612.35 141.68 L613.71 142.19 L615.03 142.83 L616.30 143.58 L617.53 144.40 L618.74 145.28 L619.92 146.19 L621.10 147.11 L622.28 148.04 L623.46 148.97 L624.65 149.89 L625.84 150.78 L627.06 151.65 L628.30 152.48 L629.58 153.25 L630.89 153.95 L632.24 154.59 L633.62 155.15 L635.02 155.64 L636.45 156.05 L637.90 156.39 L639.36 156.65 L640.84 156.83 L642.33 156.94 L643.82 156.99 L645.31 157.01 L646.80 157.04 L648.29 157.11 L649.77 157.23 L651.25 157.43 L652.71 157.71 L654.16 158.06 L655.59 158.47 L657.00 158.95 L658.40 159.49 L659.77 160.08 L661.11 160.73 L662.43 161.43 L663.73 162.17 L665.01 162.95 L666.27 163.76 L667.52 164.58 L668.76 165.43 L670.00 166.28 L671.22 167.14 L672.44 168.01 L673.66 168.90 L674.86 169.79 L676.06 170.69 L677.24 171.61 L678.42 172.54 L679.58 173.49 L680.74 174.44 L681.88 175.42 L683.01 176.40 L684.13 177.39 L685.26 178.39 L686.39 179.37 L687.52 180.35 L688.68 181.31 L689.85 182.23 L691.05 183.13 L692.28 183.97 L693.54 184.77 L694.84 185.50 L696.17 186.17 L697.53 186.76 L698.93 187.28 L700.35 187.74 L701.79 188.15 L703.24 188.52 L704.69 188.88 L706.14 189.23 L707.57 189.58 L708.96 189.94 L710.28 190.29 L711.52 190.62 L712.66 190.94 L713.75 191.25" stroke="#ff0000" stroke-width="2.5"/>
</g>
<rect x="93" y="61" width="623" height="910" fill="none" stroke="#dadada" stroke-width="2"/>
<rect x="93.9" y="62" width="2.2" height="908" fill="#2c2c2c"/>
<rect x="713" y="62" width="2.2" height="908" fill="#2c2c2c"/>
<rect x="93.9" y="62" width="621.3" height="2" fill="#0c0c0c"/>
<rect x="93.9" y="968" width="621.3" height="2" fill="#0c0c0c"/>
<rect x="127.2" y="102.2" width="210.6" height="116.8" fill="#fff" stroke="#111" stroke-width="1.9"/>
<line x1="141" y1="115.8" x2="181" y2="115.8" stroke="#111" stroke-width="2.2"/>
<text transform="translate(189.51 122.10) scale(1.0166 1.0000)" font-size="15.6" fill="#26262c" stroke="#26262c" stroke-width="0.25">GT</text>
<path d="M213.10 110.90h5.8v1.5h-1.95v8.2h1.95v1.5h-5.8v-1.5h1.95v-8.2h-1.95z" fill="#26262c"/>
<path d="M220.15 110.90h5.8v1.5h-1.95v8.2h1.95v1.5h-5.8v-1.5h1.95v-8.2h-1.95z" fill="#26262c"/>
<path d="M227.20 110.90h5.8v1.5h-1.95v8.2h1.95v1.5h-5.8v-1.5h1.95v-8.2h-1.95z" fill="#26262c"/>
<text transform="translate(233.40 122.10) scale(1.1277 1.0000)" font-size="15.6" fill="#26262c" stroke="#26262c" stroke-width="0.25">-4R</text>
<text transform="translate(267.41 122.10) scale(1.1197 1.0000)" font-size="15.6" fill="#26262c" stroke="#26262c" stroke-width="0.25">Output</text>
<line x1="141" y1="144.4" x2="181" y2="144.4" stroke="#ff0000" stroke-width="2.2"/>
<text transform="translate(189.85 150.70) scale(1.1317 1.0000)" font-size="15.6" fill="#26262c" stroke="#26262c" stroke-width="0.25">TO4Z Output</text>
<line x1="141" y1="172.8" x2="181" y2="172.8" stroke="#1a1a1a" stroke-width="2.2" stroke-dasharray="6 2.6"/>
<text transform="translate(189.51 179.10) scale(1.0166 1.0000)" font-size="15.6" fill="#26262c" stroke="#26262c" stroke-width="0.25">GT</text>
<path d="M213.10 167.90h5.8v1.5h-1.95v8.2h1.95v1.5h-5.8v-1.5h1.95v-8.2h-1.95z" fill="#26262c"/>
<path d="M220.15 167.90h5.8v1.5h-1.95v8.2h1.95v1.5h-5.8v-1.5h1.95v-8.2h-1.95z" fill="#26262c"/>
<path d="M227.20 167.90h5.8v1.5h-1.95v8.2h1.95v1.5h-5.8v-1.5h1.95v-8.2h-1.95z" fill="#26262c"/>
<text transform="translate(233.40 179.10) scale(1.1277 1.0000)" font-size="15.6" fill="#26262c" stroke="#26262c" stroke-width="0.25">-4R</text>
<text transform="translate(266.89 179.10) scale(1.0467 1.0000)" font-size="15.6" fill="#26262c" stroke="#26262c" stroke-width="0.25">Boost</text>
<line x1="141" y1="201.4" x2="181" y2="201.4" stroke="#ff0000" stroke-width="2.2" stroke-dasharray="6 2.6"/>
<text transform="translate(189.87 207.70) scale(1.0712 1.0000)" font-size="15.6" fill="#26262c" stroke="#26262c" stroke-width="0.25">TO4Z Boost</text>
<rect x="446.6" y="231.6" width="92" height="41" fill="#fff" stroke="#3a3a3a" stroke-width="1.9"/>
<text transform="translate(457.26 258.60) scale(1.0229 1.0000)" font-size="16" fill="#26262c" stroke="#26262c" stroke-width="0.25">OUTPUT</text>
<rect x="444.4" y="562.6" width="98.8" height="42.5" fill="#fff" stroke="#3a3a3a" stroke-width="1.9"/>
<text transform="translate(461.38 590.00) scale(1.0277 1.0000)" font-size="16" fill="#26262c" stroke="#26262c" stroke-width="0.25">BOOST</text>
<rect x="425" y="685.6" width="275" height="273.4" fill="#fff" stroke="#2a2a2a" stroke-width="2"/>
<text transform="translate(432.83 711.70) scale(1.0928 1.0000)" font-size="19.8" fill="#26262c" stroke="#26262c" stroke-width="0.3">&lt;Test Vehicle &amp; Specs&gt;</text>
<text transform="translate(441.67 743.50) scale(1.0904 1.0000)" font-size="19.8" fill="#26262c" stroke="#26262c" stroke-width="0.3">D1 Spec 86</text>
<text transform="translate(441.69 775.80) scale(1.0779 1.0000)" font-size="19.8" fill="#26262c" stroke="#26262c" stroke-width="0.3">NA Head 3.4Lm</text>
<text transform="translate(442.30 808.40) scale(1.1092 1.0000)" font-size="19.8" fill="#26262c" stroke="#26262c" stroke-width="0.3">Comp Ratio 8.0</text>
<text transform="translate(432.81 840.20) scale(1.1140 1.0000)" font-size="19.8" fill="#26262c" stroke="#26262c" stroke-width="0.3">&lt;Test Conditions&gt;</text>
<text transform="translate(446.41 872.75) scale(1.1922 1.0000)" font-size="15.6" fill="#1c1c1c" stroke="#1c1c1c" stroke-width="0.2">1.7</text>
<text transform="translate(477.78 872.75) scale(1.1823 1.0000)" font-size="19.8" fill="#26262c" stroke="#26262c" stroke-width="0.3">k</text>
<text transform="translate(495.00 872.75) scale(1.1060 1.0000)" font-size="19.8" fill="#26262c" stroke="#26262c" stroke-width="0.3">/cm2, Drag Gas,</text>
<text transform="translate(439.76 902.60) scale(1.0480 1.0000)" font-size="19.8" fill="#26262c" stroke="#26262c" stroke-width="0.3">Chassis dynamo</text>
<text transform="translate(438.65 935.75) scale(1.1234 1.0000)" font-size="15.8" fill="#1c1c1c" stroke="#1c1c1c" stroke-width="0.2">TO4Z&amp;GTII-Same Ex Housuing</text>
<rect x="435.6" y="735.0" width="3.8" height="3.8" fill="#222"/>
<rect x="435.6" y="767.3" width="3.8" height="3.8" fill="#222"/>
<rect x="435.6" y="799.9" width="3.8" height="3.8" fill="#222"/>
<rect x="435.6" y="863.6" width="3.8" height="3.8" fill="#222"/>
<text transform="translate(54.22 67.90) scale(0.9756 1.0000)" font-size="16" fill="#333" stroke="#333" stroke-width="0.15">750</text>
<text transform="translate(54.22 121.19) scale(0.9756 1.0000)" font-size="16" fill="#333" stroke="#333" stroke-width="0.15">700</text>
<text transform="translate(54.22 174.49) scale(0.9756 1.0000)" font-size="16" fill="#333" stroke="#333" stroke-width="0.15">650</text>
<text transform="translate(54.22 227.78) scale(0.9756 1.0000)" font-size="16" fill="#333" stroke="#333" stroke-width="0.15">600</text>
<text transform="translate(54.38 281.08) scale(0.9695 1.0000)" font-size="16" fill="#333" stroke="#333" stroke-width="0.15">550</text>
<text transform="translate(54.38 334.37) scale(0.9695 1.0000)" font-size="16" fill="#333" stroke="#333" stroke-width="0.15">500</text>
<text transform="translate(54.69 387.66) scale(0.9575 1.0000)" font-size="16" fill="#333" stroke="#333" stroke-width="0.15">450</text>
<text transform="translate(54.69 440.96) scale(0.9575 1.0000)" font-size="16" fill="#333" stroke="#333" stroke-width="0.15">400</text>
<text transform="translate(54.46 494.25) scale(0.9665 1.0000)" font-size="16" fill="#333" stroke="#333" stroke-width="0.15">350</text>
<text transform="translate(54.46 547.55) scale(0.9665 1.0000)" font-size="16" fill="#333" stroke="#333" stroke-width="0.15">300</text>
<text transform="translate(54.22 600.84) scale(0.9756 1.0000)" font-size="16" fill="#333" stroke="#333" stroke-width="0.15">250</text>
<text transform="translate(54.22 654.14) scale(0.9756 1.0000)" font-size="16" fill="#333" stroke="#333" stroke-width="0.15">200</text>
<text transform="translate(53.81 707.43) scale(0.9913 1.0000)" font-size="16" fill="#333" stroke="#333" stroke-width="0.15">150</text>
<text transform="translate(53.81 760.72) scale(0.9913 1.0000)" font-size="16" fill="#333" stroke="#333" stroke-width="0.15">100</text>
<text transform="translate(62.77 814.02) scale(0.9832 1.0000)" font-size="16" fill="#333" stroke="#333" stroke-width="0.15">50</text>
<text transform="translate(71.44 867.31) scale(0.9923 1.0000)" font-size="16" fill="#333" stroke="#333" stroke-width="0.15">0</text>
<text transform="translate(77.91 995.80) scale(0.9879 1.0000)" font-size="16" fill="#333" stroke="#333" stroke-width="0.15">2000</text>
<text transform="translate(134.24 995.80) scale(0.9879 1.0000)" font-size="16" fill="#333" stroke="#333" stroke-width="0.15">2500</text>
<text transform="translate(190.81 995.80) scale(0.9810 1.0000)" font-size="16" fill="#333" stroke="#333" stroke-width="0.15">3000</text>
<text transform="translate(247.14 995.80) scale(0.9810 1.0000)" font-size="16" fill="#333" stroke="#333" stroke-width="0.15">3500</text>
<text transform="translate(303.71 995.80) scale(0.9742 1.0000)" font-size="16" fill="#333" stroke="#333" stroke-width="0.15">4000</text>
<text transform="translate(360.04 995.80) scale(0.9742 1.0000)" font-size="16" fill="#333" stroke="#333" stroke-width="0.15">4500</text>
<text transform="translate(416.05 995.80) scale(0.9833 1.0000)" font-size="16" fill="#333" stroke="#333" stroke-width="0.15">5000</text>
<text transform="translate(472.38 995.80) scale(0.9833 1.0000)" font-size="16" fill="#333" stroke="#333" stroke-width="0.15">5500</text>
<text transform="translate(528.55 995.80) scale(0.9879 1.0000)" font-size="16" fill="#333" stroke="#333" stroke-width="0.15">6000</text>
<text transform="translate(584.88 995.80) scale(0.9879 1.0000)" font-size="16" fill="#333" stroke="#333" stroke-width="0.15">6500</text>
<text transform="translate(641.21 995.80) scale(0.9879 1.0000)" font-size="16" fill="#333" stroke="#333" stroke-width="0.15">7000</text>
<text transform="translate(697.54 995.80) scale(0.9879 1.0000)" font-size="16" fill="#333" stroke="#333" stroke-width="0.15">7500</text>
<text transform="translate(729.79 601.14) scale(1.0057 1.0000)" font-size="16" fill="#333" stroke="#333" stroke-width="0.15">1.8</text>
<text transform="translate(729.79 654.44) scale(1.0057 1.0000)" font-size="16" fill="#333" stroke="#333" stroke-width="0.15">1.5</text>
<text transform="translate(729.79 707.73) scale(1.0097 1.0000)" font-size="16" fill="#333" stroke="#333" stroke-width="0.15">1.2</text>
<text transform="translate(730.45 761.02) scale(0.9788 1.0000)" font-size="16" fill="#333" stroke="#333" stroke-width="0.15">0.9</text>
<text transform="translate(730.45 814.32) scale(0.9751 1.0000)" font-size="16" fill="#333" stroke="#333" stroke-width="0.15">0.6</text>
<text transform="translate(730.45 867.61) scale(0.9751 1.0000)" font-size="16" fill="#333" stroke="#333" stroke-width="0.15">0.3</text>
<text transform="translate(730.45 920.91) scale(0.9794 1.0000)" font-size="16" fill="#333" stroke="#333" stroke-width="0.15">0</text>
<text transform="translate(728.87 974.20) scale(0.9782 1.0000)" font-size="16" fill="#333" stroke="#333" stroke-width="0.15">-0.3</text>
<text transform="translate(344.07 1020.80) scale(1.0207 1.0000)" font-size="17" fill="#16161c" font-weight="bold">Engine RPM</text>
<text transform="translate(41.40 636.00) rotate(-90) translate(-1.45 0) scale(1.1375 1.0000)" font-size="15.9" fill="#26262c" stroke="#26262c" stroke-width="0.2">Engine Output (No Loss) PS</text>
<text transform="translate(776.30 794.70) rotate(-90) translate(-1.73 0) scale(1.1624 1.0000)" font-size="18.6" fill="#1c1c1c">Boost (kg/cm2)</text>
<g id="title">
<text transform="translate(219.15 50.90) scale(0.8843 1.0000)" font-size="29.6" fill="#101014" font-weight="bold">G</text>
<text transform="translate(238.98 50.90) scale(1.0731 1.0000)" font-size="29.6" fill="#101014" font-weight="bold">T</text>
<text transform="translate(315.05 50.90) scale(1.2387 1.0000)" font-size="29.6" fill="#101014" font-weight="bold">4</text>
<text transform="translate(336.47 50.90) scale(0.9502 1.0000)" font-size="29.6" fill="#101014" font-weight="bold">R</text>
<text transform="translate(363.30 50.90) scale(1.0774 1.0000)" font-size="29.6" fill="#101014" font-weight="bold">v</text>
<text transform="translate(390.91 50.90) scale(1.0518 1.0000)" font-size="29.6" fill="#101014" font-weight="bold">s</text>
<text transform="translate(426.88 50.90) scale(1.0675 1.0000)" font-size="29.6" fill="#101014" font-weight="bold">T</text>
<text transform="translate(445.95 50.90) scale(1.0521 1.0000)" font-size="29.6" fill="#101014" font-weight="bold">O</text>
<text transform="translate(470.71 50.90) scale(1.1136 1.0000)" font-size="29.6" fill="#101014" font-weight="bold">4</text>
<text transform="translate(490.41 50.90) scale(1.0738 1.0000)" font-size="29.6" fill="#101014" font-weight="bold">Z</text>
<path d="M260.1 30.5h11.6v3h-3.8v14.4h3.8v3h-11.6v-3h3.8v-14.4h-3.8z" fill="#101014"/>
<path d="M274.2 30.5h11.6v3h-3.8v14.4h3.8v3h-11.6v-3h3.8v-14.4h-3.8z" fill="#101014"/>
<path d="M288.2 30.5h11.6v3h-3.8v14.4h3.8v3h-11.6v-3h3.8v-14.4h-3.8z" fill="#101014"/>
<rect x="302.6" y="41.6" width="11.2" height="3.7" fill="#101014"/>
<rect x="383.8" y="46.2" width="5" height="4.7" fill="#101014"/>
<rect x="410.4" y="46.2" width="5" height="4.7" fill="#101014"/>
</g>
</svg>
</body></html>
